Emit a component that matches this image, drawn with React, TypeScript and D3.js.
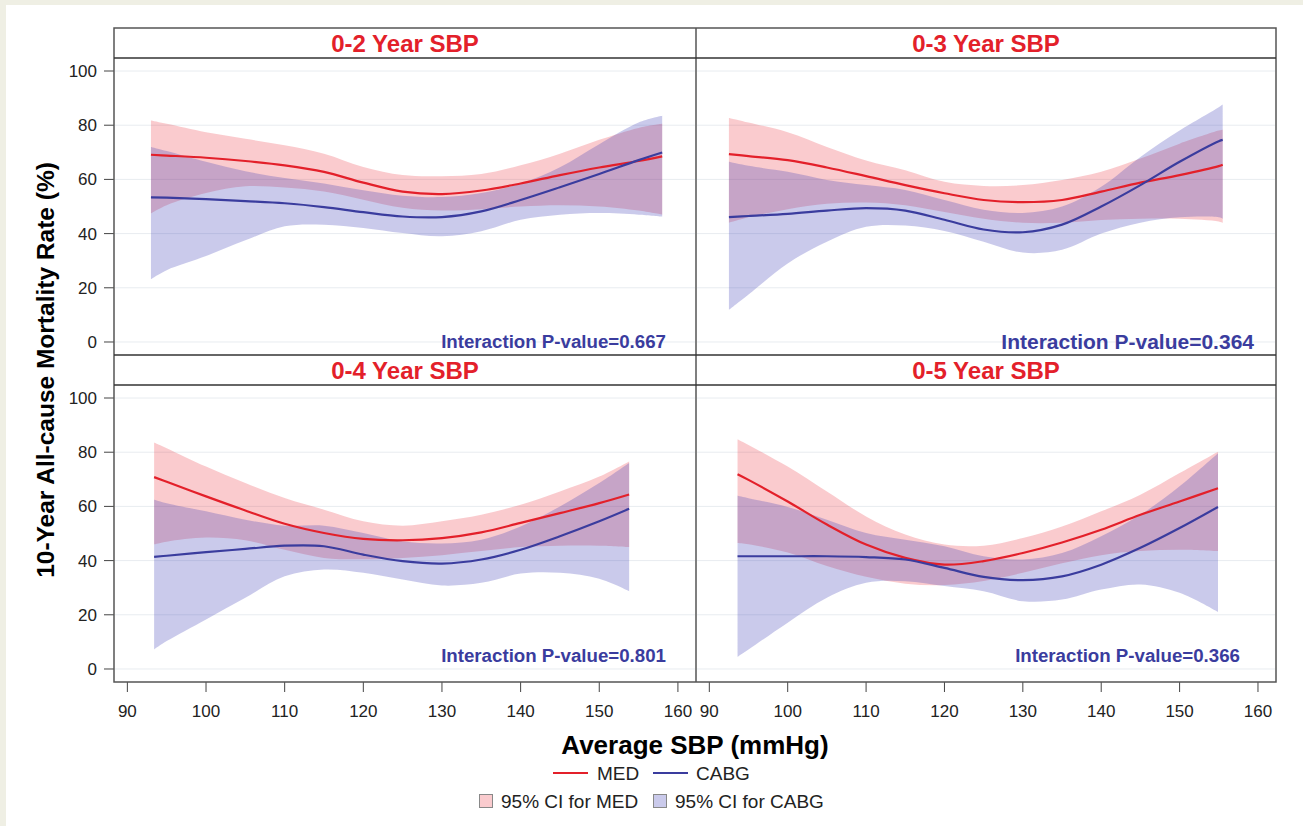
import * as d3 from 'd3';

// ---- data ----
const xTicks = [90, 100, 110, 120, 130, 140, 150, 160];
const yTicks = [0, 20, 40, 60, 80, 100];

const titles = ['0-2 Year SBP', '0-3 Year SBP', '0-4 Year SBP', '0-5 Year SBP'];
const pValues = ['0.667', '0.364', '0.801', '0.366'];

// 0-2 year
const sbp02 = [93, 95, 100, 105, 110, 115, 120, 125, 130, 135, 140, 145, 150, 155, 158];
const med02 = [69.1, 68.8, 68, 66.8, 65.2, 62.8, 58.8, 55.5, 54.6, 55.9, 58.5, 61.6, 64.4, 66.8, 68.5];
const medHi02 = [81.7, 80.5, 77.4, 75, 72.6, 69.5, 64.6, 61.6, 61.2, 62, 65.2, 69.5, 74.6, 79, 80.5];
const medLo02 = [47.5, 50.5, 55, 57.5, 57, 55.5, 52.5, 49.5, 48.5, 49, 50, 50.5, 50, 48.5, 47];
const cabg02 = [53.4, 53.3, 52.7, 52, 51.2, 49.8, 47.9, 46.3, 46.1, 48.2, 52.4, 57.1, 62, 67.1, 69.9];
const cabgHi02 = [72, 70.5, 66.5, 63, 60.5, 58.5, 56, 54, 53.5, 55, 58.5, 64.5, 73, 81, 83.5];
const cabgLo02 = [23.2, 26.5, 31.7, 37.5, 42.7, 43.3, 42.1, 40.2, 39, 40.9, 45.1, 47, 47.6, 47, 46.3];

// 0-3 year
const sbp03 = [92.5, 95, 100, 105, 110, 115, 120, 125, 130, 135, 140, 145, 150, 155, 155.5];
const med03 = [69.3, 68.6, 67.1, 64.4, 61.2, 57.9, 54.9, 52.4, 51.6, 52.4, 55.5, 58.8, 61.6, 64.9, 65.4];
const medHi03 = [82.7, 81, 77.4, 72, 67, 63.4, 59.1, 57.6, 57.9, 59.8, 62.8, 67.7, 73.2, 78, 78.3];
const medLo03 = [44, 46, 49, 51, 51.5, 50.5, 48, 45.5, 44, 44, 45, 45.5, 45.5, 44.5, 44];
const cabg03 = [46.1, 46.5, 47.3, 48.5, 49.4, 48.5, 45.1, 41.5, 40.5, 43.3, 50, 57.9, 66.5, 74.1, 74.6];
const cabgHi03 = [66.5, 65, 62.8, 59.8, 57.9, 56.1, 52.4, 48.8, 47.6, 50, 57.3, 68.3, 78, 86.6, 87.6];
const cabgLo03 = [11.8, 17.5, 29, 37, 42.5, 43, 41, 37, 33, 34, 40, 44, 46, 46, 45.5];

// 0-4 year
const sbp04 = [93.4, 95, 100, 105, 110, 115, 120, 125, 130, 135, 140, 145, 150, 153.8];
const med04 = [70.8, 69.1, 63.7, 58.5, 53.6, 50.2, 48, 47.5, 48.3, 50.4, 53.9, 57.5, 61.2, 64.4];
const medHi04 = [83.6, 81.5, 74.7, 68.6, 63.1, 58.8, 54.5, 52.9, 54.5, 56.9, 60.6, 65.5, 71, 76.6];
const medLo04 = [46, 47, 48.5, 47.5, 44, 41, 40.5, 41, 42, 43.5, 45, 45.5, 45.5, 45];
const cabg04 = [41.4, 41.8, 43.1, 44.3, 45.5, 45.3, 42.2, 39.8, 38.9, 40.4, 44, 49, 54.5, 59.1];
const cabgHi04 = [62.5, 61.2, 58.2, 55.1, 52.9, 52.9, 50.2, 47.1, 46.3, 47.7, 52.6, 60, 68.6, 76];
const cabgLo04 = [7.2, 10.3, 18.3, 26.3, 34.2, 36.7, 35.5, 33, 30.8, 31.8, 35.2, 35.5, 33.3, 28.7];

// 0-5 year
const sbp05 = [93.6, 95, 100, 105, 110, 115, 120, 125, 130, 135, 140, 145, 150, 154.9];
const med05 = [71.9, 69.8, 61.8, 53.3, 45.9, 41, 38.5, 39.8, 42.8, 46.7, 51.4, 56.9, 61.8, 66.7];
const medHi05 = [84.8, 82.7, 74.7, 65.5, 56.3, 49.6, 45.9, 45.5, 48.3, 52.6, 58.2, 64.3, 72.3, 80.2];
const medLo05 = [46.5, 46, 43, 38, 34, 31.5, 31, 32.5, 35.5, 39, 42, 43.5, 44, 43.5];
const cabg05 = [41.6, 41.6, 41.6, 41.6, 41.3, 40.4, 37.3, 34, 32.8, 34.2, 38.5, 44.7, 52, 59.8];
const cabgHi05 = [63.9, 63, 59.8, 55.1, 50.2, 47.7, 45.3, 41.6, 40.4, 42.8, 49, 56.9, 67.4, 79.6];
const cabgLo05 = [4.5, 7.2, 17.1, 26.3, 31.8, 32.4, 30.6, 28.7, 25, 25.6, 29.3, 31.2, 28.1, 21];

type Pt = { x: number; v: number; lo: number; hi: number };
const zip = (xs: number[], v: number[], lo: number[], hi: number[]): Pt[] =>
  xs.map((x, i) => ({ x, v: v[i], lo: lo[i], hi: hi[i] }));

const panelData = [
  { med: zip(sbp02, med02, medLo02, medHi02), cabg: zip(sbp02, cabg02, cabgLo02, cabgHi02) },
  { med: zip(sbp03, med03, medLo03, medHi03), cabg: zip(sbp03, cabg03, cabgLo03, cabgHi03) },
  { med: zip(sbp04, med04, medLo04, medHi04), cabg: zip(sbp04, cabg04, cabgLo04, cabgHi04) },
  { med: zip(sbp05, med05, medLo05, medHi05), cabg: zip(sbp05, cabg05, cabgLo05, cabgHi05) },
];

// ---- style ----
const FONT = '"Liberation Sans", Arial, sans-serif';
const RED = '#e3202a';
const BLUE = '#3a3c9e';
const PINK = 'rgba(232, 32, 42, 0.23)';
const LAV = 'rgba(60, 60, 180, 0.27)';
const FRAME = '#555';

const cols = [
  [114, 696],
  [696, 1276],
];
const rows = [
  { top: 28, plotTop: 58, plotBottom: 355 },
  { top: 355, plotTop: 385, plotBottom: 682 },
];
// size/placement of the interaction text per panel
const pStyle = [
  { size: 18.7, right: 666, base: 348 },
  { size: 21, right: 1254, base: 349 },
  { size: 18.7, right: 666, base: 662 },
  { size: 18.7, right: 1240, base: 662 },
];

const Panel = ({ idx }: { idx: number }) => {
  const [x0, x1] = cols[idx % 2];
  const row = rows[Math.floor(idx / 2)];
  const x = d3.scaleLinear().domain([88.3, 162.3]).range([x0, x1]);
  const y = d3.scaleLinear().domain([-4.8, 104.8]).range([row.plotBottom, row.plotTop]);
  const band = d3
    .area<Pt>()
    .x((d) => x(d.x))
    .y0((d) => y(d.lo))
    .y1((d) => y(d.hi))
    .curve(d3.curveCatmullRom.alpha(0.5));
  const line = d3
    .line<Pt>()
    .x((d) => x(d.x))
    .y((d) => y(d.v))
    .curve(d3.curveCatmullRom.alpha(0.5));
  const data = panelData[idx];
  const ps = pStyle[idx];
  const clipId = `clip${idx}`;
  return (
    <g>
      <defs>
        <clipPath id={clipId}>
          <rect x={x0} y={row.plotTop} width={x1 - x0} height={row.plotBottom - row.plotTop} />
        </clipPath>
      </defs>
      {yTicks.map((t) => (
        <line key={t} x1={x0 + 1} x2={x1 - 1} y1={y(t)} y2={y(t)} stroke="#e8ecf0" strokeWidth={1} />
      ))}
      <g clipPath={`url(#${clipId})`}>
        <path d={band(data.med) || ''} fill={PINK} />
        <path d={band(data.cabg) || ''} fill={LAV} />
        <path d={line(data.med) || ''} fill="none" stroke={RED} strokeWidth={2.2} />
        <path d={line(data.cabg) || ''} fill="none" stroke={BLUE} strokeWidth={2.2} />
      </g>
      <text
        x={(x0 + x1) / 2}
        y={row.plotTop - 6}
        textAnchor="middle"
        fontFamily={FONT}
        fontWeight="bold"
        fontSize={24}
        fill={RED}
      >
        {titles[idx]}
      </text>
      <text
        x={ps.right}
        y={ps.base}
        textAnchor="end"
        fontFamily={FONT}
        fontWeight="bold"
        fontSize={ps.size}
        fill={BLUE}
      >
        {`Interaction P-value=${pValues[idx]}`}
      </text>
      {idx % 2 === 0 &&
        yTicks.map((t) => (
          <g key={t}>
            <line x1={104} x2={x0} y1={y(t)} y2={y(t)} stroke="#444" strokeWidth={1} />
            <text x={97} y={y(t) + 6} textAnchor="end" fontFamily={FONT} fontSize={17} fill="#222">
              {t}
            </text>
          </g>
        ))}
      {idx >= 2 &&
        xTicks.map((t) => (
          <g key={t}>
            <line x1={x(t)} x2={x(t)} y1={row.plotBottom} y2={row.plotBottom + 10} stroke="#444" strokeWidth={1} />
            <text x={x(t)} y={717} textAnchor="middle" fontFamily={FONT} fontSize={17} fill="#222">
              {t}
            </text>
          </g>
        ))}
    </g>
  );
};

export default function App() {
  const W = 1303;
  const H = 826;
  return (
    <svg
      width={W}
      height={H}
      style={{ position: 'absolute', left: 0, top: 0, display: 'block' }}
      xmlns="http://www.w3.org/2000/svg"
    >
      <rect x={0} y={0} width={W} height={H} fill="#efefe4" />
      <rect x={6} y={5} width={W - 6} height={H - 5} fill="#fff" />

      {[0, 1, 2, 3].map((i) => (
        <Panel key={i} idx={i} />
      ))}

      {/* frame */}
      <g fill="none" stroke={FRAME} strokeWidth={1.5}>
        <rect x={114} y={28} width={1276 - 114} height={682 - 28} />
        <line x1={696} x2={696} y1={28} y2={682} />
        <line x1={114} x2={1276} y1={58} y2={58} stroke="#333" />
        <line x1={114} x2={1276} y1={355} y2={355} stroke="#333" />
        <line x1={114} x2={1276} y1={385} y2={385} stroke="#333" />
      </g>

      {/* axis titles */}
      <text
        transform="translate(54,370) rotate(-90)"
        textAnchor="middle"
        fontFamily={FONT}
        fontWeight="bold"
        fontSize={24.5}
        fill="#000"
      >
        10-Year All-cause Mortality Rate (%)
      </text>
      <text x={695} y={754} textAnchor="middle" fontFamily={FONT} fontWeight="bold" fontSize={26} fill="#000">
        Average SBP (mmHg)
      </text>

      {/* legend */}
      <g fontFamily={FONT} fontSize={19} fill="#222">
        <line x1={553} x2={588} y1={773} y2={773} stroke={RED} strokeWidth={2.2} />
        <text x={597} y={779.5}>MED</text>
        <line x1={653} x2={688} y1={773} y2={773} stroke={BLUE} strokeWidth={2.2} />
        <text x={696} y={779.5}>CABG</text>
        <rect x={479.5} y={794.5} width={13} height={13} fill={PINK} stroke="#888" strokeWidth={1} />
        <text x={501} y={808}>95% CI for MED</text>
        <rect x={653.5} y={794.5} width={13} height={13} fill={LAV} stroke="#888" strokeWidth={1} />
        <text x={675} y={808}>95% CI for CABG</text>
      </g>
    </svg>
  );
}
